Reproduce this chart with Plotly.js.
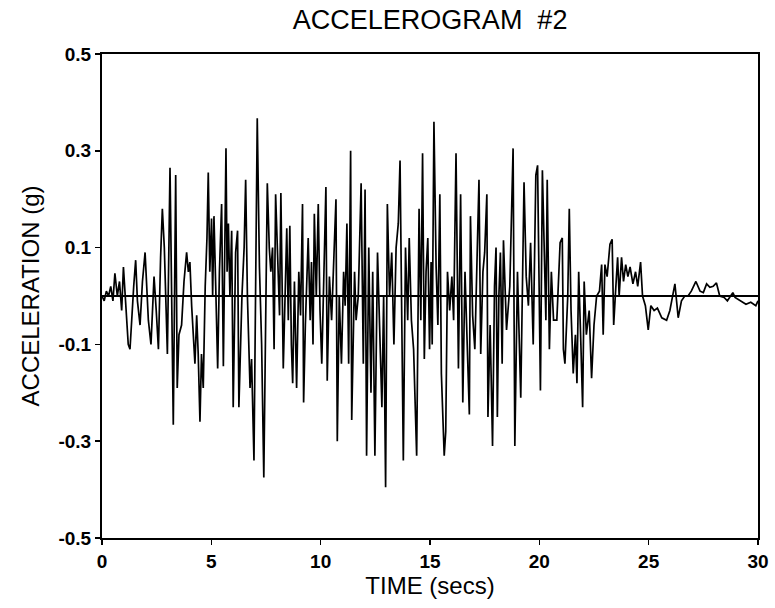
<!DOCTYPE html>
<html>
<head>
<meta charset="utf-8">
<script src="https://cdn.plot.ly/plotly-3.0.1.min.js"></script>
<style>html,body{margin:0;padding:0;background:#fff;}#chart{width:775px;height:608px;}</style>
</head>
<body>
<div id="chart"></div>
<script>
// Time samples (s)
var timeSecs = [
0.0,0.1,0.2,0.3,0.4,0.5,0.59,0.7,0.8,0.9,0.98,1.1,1.2,1.28,1.35,1.45,1.54,1.62,1.74,1.85,1.97,2.05,2.12,2.24,2.38,2.48,2.58,2.68,2.76,2.85,2.99,
3.11,3.2,3.26,3.37,3.44,3.52,3.64,3.75,3.87,3.95,4.02,4.1,4.18,4.25,4.33,4.4,4.48,4.55,4.63,4.72,4.8,4.86,4.93,5.01,5.06,5.12,5.2,5.29,5.37,5.47,5.55,5.67,5.72,5.78,5.85,5.93,
6.0,6.06,6.11,6.2,6.26,6.4,6.5,6.57,6.65,6.77,6.84,6.95,7.02,7.1,7.2,7.3,7.4,7.56,7.65,7.72,7.8,7.87,7.94,8.05,8.12,8.18,8.29,8.4,8.45,8.52,8.59,8.66,8.72,8.8,8.9,
9.0,9.08,9.17,9.22,9.3,9.43,9.52,9.58,9.65,9.71,9.8,9.89,9.97,10.05,10.15,10.24,10.3,10.4,10.5,10.6,10.7,10.76,10.85,10.95,11.05,11.12,11.2,11.28,11.37,11.42,11.55,11.62,11.72,11.85,11.95,
12.03,12.1,12.2,12.3,12.38,12.48,12.6,12.7,12.8,12.88,12.97,13.05,13.15,13.25,13.35,13.45,13.55,13.63,13.78,13.88,13.98,14.05,14.15,14.25,14.39,14.5,14.58,14.66,14.74,14.82,14.9,14.98,
15.05,15.1,15.18,15.28,15.36,15.45,15.52,15.65,15.72,15.8,15.9,16.0,16.08,16.19,16.25,16.3,16.4,16.5,16.6,16.7,16.8,16.85,16.95,17.05,17.15,17.24,17.32,17.42,17.5,17.6,17.65,17.75,17.86,17.95,
18.02,18.08,18.15,18.22,18.3,18.36,18.5,18.65,18.8,18.88,19.0,19.15,19.3,19.4,19.5,19.6,19.72,19.84,19.92,20.0,20.05,20.14,20.22,20.3,20.36,20.46,20.55,20.65,20.8,20.95,
21.05,21.1,21.17,21.3,21.37,21.45,21.55,21.65,21.72,21.8,21.9,21.98,22.05,22.15,22.28,22.39,22.5,22.62,22.75,22.85,22.92,23.0,23.1,23.23,23.33,23.4,23.5,23.58,23.65,23.76,23.85,23.95,
24.05,24.15,24.28,24.4,24.5,24.63,24.72,24.85,24.98,25.1,25.25,25.4,25.6,25.82,25.97,26.2,26.35,26.5,26.65,26.8,26.95,27.16,27.35,27.5,27.65,27.8,27.95,
28.1,28.25,28.45,28.6,28.85,28.95,29.2,29.45,29.67,29.9,30.0
];
// Acceleration (g) at the times above
var accelG = [
0.0,-0.01,0.01,0.0,0.02,-0.01,0.047,0.0,0.03,-0.03,0.06,-0.02,-0.1,-0.11,-0.05,0.02,0.074,-0.01,-0.06,0.03,0.09,0.0,-0.05,-0.1,0.04,-0.03,-0.11,0.08,0.18,0.1,-0.12,
0.265,-0.05,-0.266,0.25,-0.19,-0.08,-0.06,0.03,0.09,0.05,0.07,-0.02,-0.08,-0.14,-0.04,-0.12,-0.26,-0.12,-0.19,0.02,0.12,0.255,0.05,0.16,0.0,0.165,0.02,-0.15,0.05,0.19,-0.145,0.305,0.05,0.15,0.0,0.135,
-0.23,0.0,0.09,0.135,-0.23,0.0,0.1,0.24,0.0,-0.19,-0.13,-0.34,0.0,0.367,0.06,-0.1,-0.375,0.233,0.1,0.05,0.1,-0.11,0.21,0.08,-0.04,0.213,-0.15,0.05,0.14,-0.05,0.145,-0.1,-0.18,0.03,-0.19,
0.05,-0.04,0.19,-0.22,-0.06,0.12,-0.05,0.07,-0.1,0.17,0.0,0.19,-0.03,-0.14,0.05,0.225,-0.175,0.04,-0.05,0.1,0.2,-0.3,0.0,-0.14,0.05,-0.02,0.15,-0.14,0.3,-0.256,0.05,-0.05,0.0,0.233,-0.14,
0.22,-0.33,0.1,-0.2,0.05,-0.33,0.09,-0.05,-0.23,0.0,-0.395,0.19,0.0,0.09,-0.1,0.1,0.15,0.28,-0.34,0.1,-0.05,0.12,-0.05,-0.11,-0.33,0.18,-0.05,0.295,-0.13,0.05,0.12,-0.11,
0.07,-0.1,0.36,0.06,-0.06,0.21,-0.16,-0.33,-0.28,0.05,-0.03,0.04,-0.05,0.295,0.1,-0.15,0.21,-0.22,0.05,-0.1,-0.245,0.165,-0.04,-0.11,0.05,0.24,-0.12,0.05,0.09,0.21,-0.25,-0.06,-0.31,0.02,
0.1,-0.25,0.0,0.09,-0.14,0.115,-0.07,0.02,0.305,-0.31,0.05,-0.21,0.235,0.04,-0.02,0.11,-0.1,0.25,0.27,-0.02,-0.195,0.26,0.11,-0.05,0.24,-0.11,0.05,-0.05,-0.05,0.11,
0.12,-0.11,-0.14,0.0,0.18,-0.03,-0.16,-0.08,-0.18,0.05,-0.1,-0.23,0.03,-0.08,-0.03,-0.17,-0.06,0.0,0.01,0.065,-0.08,0.065,0.04,0.107,0.117,-0.06,0.02,0.08,0.0,0.08,0.03,0.065,
0.04,0.06,0.025,0.05,0.02,0.07,0.0,-0.02,-0.07,-0.02,-0.03,-0.025,-0.045,-0.05,-0.03,0.025,-0.045,-0.01,0.0,0.0,0.01,0.03,0.01,0.007,0.025,0.018,0.02,
0.027,0.0,-0.003,-0.01,0.007,-0.003,-0.01,-0.017,-0.013,-0.02,-0.01
];
var xTickVals = [0,5,10,15,20,25,30];
var yTickVals = [-0.5,-0.3,-0.1,0.1,0.3,0.5];
var yTickText = ['-0.5','-0.3','-0.1','0.1','0.3','0.5'];

var trace = {
  x: timeSecs, y: accelG, type: 'scatter', mode: 'lines',
  line: {color: '#000', width: 1.7}, hoverinfo: 'skip'
};
var fontFam = 'Liberation Sans, Arial, Helvetica, sans-serif';
var layout = {
  width: 775, height: 608,
  margin: {l: 102, r: 17, t: 54, b: 70},
  paper_bgcolor: '#fff', plot_bgcolor: '#fff',
  showlegend: false,
  title: {text: 'ACCELEROGRAM\u00a0\u00a0#2', x: 0.555, xanchor: 'center', y: 0.968, yanchor: 'middle',
          font: {family: fontFam, size: 27, color: '#000'}},
  xaxis: {
    range: [0, 30], tickvals: xTickVals, ticktext: xTickVals.map(String),
    ticks: 'outside', ticklen: 5, tickwidth: 1.5, tickcolor: '#000',
    showline: true, linecolor: '#000', linewidth: 2, mirror: true,
    showgrid: false, zeroline: false,
    tickfont: {family: fontFam, size: 19, color: '#000', weight: 'bold'},
    title: {text: 'TIME (secs)', standoff: 6, font: {family: fontFam, size: 24, color: '#000'}}
  },
  yaxis: {
    range: [-0.5, 0.5], tickvals: yTickVals, ticktext: yTickText,
    ticks: 'outside', ticklen: 5, tickwidth: 1.5, tickcolor: '#000',
    showline: true, linecolor: '#000', linewidth: 2, mirror: true,
    showgrid: false, zeroline: true, zerolinecolor: '#000', zerolinewidth: 1.5,
    tickfont: {family: fontFam, size: 19, color: '#000', weight: 'bold'},
    title: {text: 'ACCELERATION (g)', standoff: 12, font: {family: fontFam, size: 24, color: '#000'}}
  }
};
Plotly.newPlot('chart', [trace], layout, {displayModeBar: false, staticPlot: true});
</script>
</body>
</html>
